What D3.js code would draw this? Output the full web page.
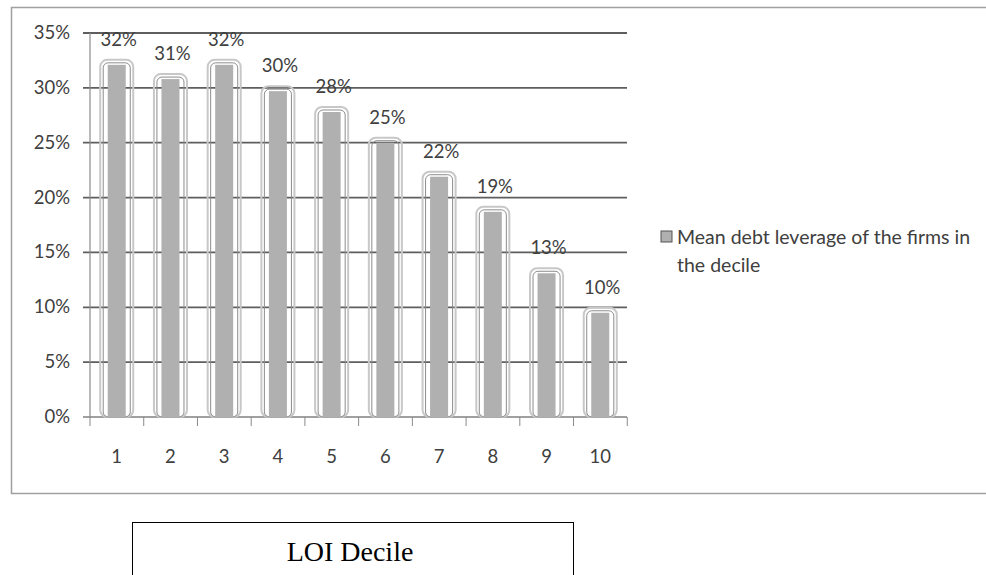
<!DOCTYPE html>
<html lang="en">
<head>
<meta charset="utf-8">
<title>LOI Decile</title>
<script src="https://cdn.jsdelivr.net/npm/d3@7/dist/d3.min.js"></script>
<style>
  body { margin: 0; background: #fff; }
</style>
</head>
<body>
<script>

var width = 986;
var height = 575;
var sans = "Lato, 'Open Sans', sans-serif";

// data
var deciles = ["1", "2", "3", "4", "5", "6", "7", "8", "9", "10"];
var leverage = [0.321, 0.308, 0.321, 0.297, 0.278, 0.250, 0.219, 0.187, 0.131, 0.095];
var yTicks = [0, 0.05, 0.10, 0.15, 0.20, 0.25, 0.30, 0.35];
var legendLines = ["Mean debt leverage of the firms in", "the decile"];
var axisTitle = "LOI Decile";

var svg = d3.select("body").append("svg")
            .attr("width", width)
            .attr("height", height);

// chart frame (left, top, bottom edges only; right runs off the page)
svg.append("path")
   .attr("d", "M" + (width + 2) + ",7.5 H11.5 V493.5 H" + (width + 2))
   .attr("fill", "none")
   .attr("stroke", "#a0a0a0")
   .attr("stroke-width", 1.5);

var x = d3.scaleBand().domain(deciles).range([90, 627]).paddingInner(0.385).paddingOuter(0.19);
var y = d3.scaleLinear().domain([0, 0.35]).range([417, 33]);

// gridlines
svg.append("g")
   .selectAll("line")
   .data(yTicks)
   .enter()
   .append("line")
   .attr("x1", 83)
   .attr("x2", 627)
   .attr("y1", function(d) { return y(d); })
   .attr("y2", function(d) { return y(d); })
   .attr("stroke", function(d) { return d === 0 ? "#a0a0a0" : "#5e5e5e"; })
   .attr("stroke-width", 1.8);

// y axis line
svg.append("line")
   .attr("x1", 90).attr("x2", 90)
   .attr("y1", y(0.35)).attr("y2", y(0))
   .attr("stroke", "#8a8a8a")
   .attr("stroke-width", 1.2);

// y tick labels
svg.append("g")
   .selectAll("text")
   .data(yTicks)
   .enter()
   .append("text")
   .attr("x", 70)
   .attr("y", function(d) { return y(d) + 6; })
   .attr("text-anchor", "end")
   .style("font-family", sans)
   .style("font-size", "18.5px")
   .attr("fill", "#404040")
   .text(d3.format(".0%"));

// x ticks at category boundaries
svg.append("g")
   .selectAll("line")
   .data(d3.range(deciles.length + 1))
   .enter()
   .append("line")
   .attr("x1", function(i) { return 90 + i * x.step(); })
   .attr("x2", function(i) { return 90 + i * x.step(); })
   .attr("y1", y(0))
   .attr("y2", y(0) + 9)
   .attr("stroke", "#8a8a8a")
   .attr("stroke-width", 1);

// bars: soft outer outline plus solid inner fill
var bars = svg.append("g")
              .selectAll("g")
              .data(leverage)
              .enter()
              .append("g");

bars.append("rect")
    .attr("x", function(d, i) { return x(deciles[i]); })
    .attr("y", function(d) { return y(d) - 5; })
    .attr("width", x.bandwidth())
    .attr("height", function(d) { return y(0) - y(d) + 5; })
    .attr("rx", 7)
    .attr("fill", "none")
    .attr("stroke", "#c8c8c8")
    .attr("stroke-width", 2);

bars.append("rect")
    .attr("x", function(d, i) { return x(deciles[i]) + 3; })
    .attr("y", function(d) { return y(d) - 2; })
    .attr("width", x.bandwidth() - 6)
    .attr("height", function(d) { return y(0) - y(d) + 2; })
    .attr("rx", 5)
    .attr("fill", "none")
    .attr("stroke", "#8c8c8c")
    .attr("stroke-width", 1);

bars.append("rect")
    .attr("x", function(d, i) { return x(deciles[i]) + x.bandwidth() / 2 - 9; })
    .attr("y", function(d) { return y(d); })
    .attr("width", 18)
    .attr("height", function(d) { return y(0) - y(d); })
    .attr("fill", "#b0b0b0");

// data labels
svg.append("g")
   .selectAll("text")
   .data(leverage)
   .enter()
   .append("text")
   .attr("x", function(d, i) { return x(deciles[i]) + x.bandwidth() / 2 + 2; })
   .attr("y", function(d) { return y(d) - 19; })
   .attr("text-anchor", "middle")
   .style("font-family", sans)
   .style("font-size", "18.5px")
   .attr("fill", "#404040")
   .text(d3.format(".0%"));

// x labels
svg.append("g")
   .selectAll("text")
   .data(deciles)
   .enter()
   .append("text")
   .attr("x", function(d) { return x(d) + x.bandwidth() / 2; })
   .attr("y", 463)
   .attr("text-anchor", "middle")
   .style("font-family", sans)
   .style("font-size", "18.5px")
   .attr("fill", "#404040")
   .text(function(d) { return d; });

// legend
svg.append("rect")
   .attr("x", 661).attr("y", 231)
   .attr("width", 11).attr("height", 11)
   .attr("fill", "#b0b0b0")
   .attr("stroke", "#555")
   .attr("stroke-width", 1);

svg.append("g")
   .selectAll("text")
   .data(legendLines)
   .enter()
   .append("text")
   .attr("x", 677)
   .attr("y", function(d, i) { return 244 + i * 28; })
   .style("font-family", sans)
   .style("font-size", "19.5px")
   .attr("fill", "#404040")
   .text(function(d) { return d; });

// axis title box underneath
svg.append("rect")
   .attr("x", 132.5).attr("y", 522.5)
   .attr("width", 441).attr("height", 70)
   .attr("fill", "none")
   .attr("stroke", "#000")
   .attr("stroke-width", 1);

svg.append("text")
   .attr("x", 350)
   .attr("y", 561)
   .attr("text-anchor", "middle")
   .style("font-family", "'Liberation Serif', 'Times New Roman', serif")
   .style("font-size", "28px")
   .attr("fill", "#000")
   .text(axisTitle);

</script>
</body></html>
